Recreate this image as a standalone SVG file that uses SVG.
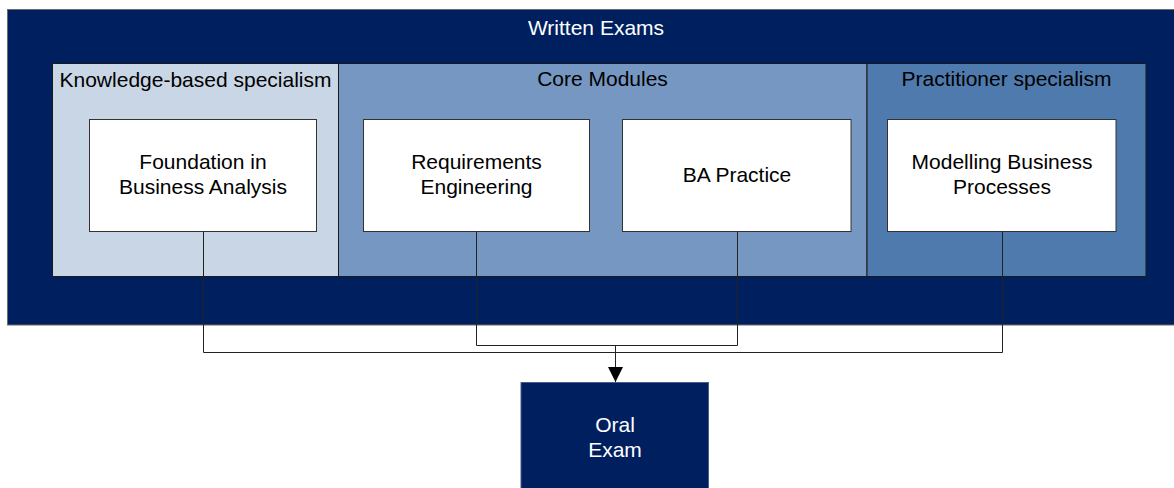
<svg xmlns="http://www.w3.org/2000/svg" width="1174" height="488" viewBox="0 0 1174 488">
<defs>
<style>
text{font-family:"Liberation Sans",Arial,sans-serif;font-size:21px;text-anchor:middle}
.dark{fill:#001f5f}
.lt{fill:#ffffff}
.blk{fill:#000000}
.panel{stroke:#1a1a1a;stroke-width:1}
.box{fill:#ffffff;stroke:#333333;stroke-width:1}
.con{fill:none;stroke:#222222;stroke-width:1}
</style>
<marker id="arr" markerUnits="userSpaceOnUse" markerWidth="16" markerHeight="16" viewBox="0 0 16 16" refX="15" refY="7.5" orient="auto">
<path d="M0,0 L15,7.5 L0,15 z" fill="#000000"/>
</marker>
</defs>
<rect width="1174" height="488" fill="#ffffff"/>
<g id="written-exams">
<rect x="7.5" y="9.5" width="1180" height="315.5" class="dark" stroke="#6b6b6b" stroke-width="1"/>
<text x="596" y="35" class="lt">Written Exams</text>
</g>
<g id="knowledge-based">
<rect x="52.5" y="63.5" width="286" height="213" class="panel" fill="#c8d6e6"/>
<text x="195.5" y="87" class="blk">Knowledge-based specialism</text>
</g>
<g id="core-modules">
<rect x="338.5" y="63.5" width="528.5" height="213" class="panel" fill="#7597c2"/>
<text x="602.5" y="86" class="blk">Core Modules</text>
</g>
<g id="practitioner">
<rect x="867" y="63.5" width="279" height="213" class="panel" fill="#4e7aae"/>
<text x="1006.5" y="86" class="blk">Practitioner specialism</text>
</g>
<g id="foundation">
<rect x="89.5" y="119.5" width="227" height="112" class="box"/>
<text x="203" y="169" class="blk">Foundation in</text>
<text x="203" y="194" class="blk">Business Analysis</text>
</g>
<g id="requirements">
<rect x="363.5" y="119.5" width="226" height="112" class="box"/>
<text x="476.5" y="169" class="blk">Requirements</text>
<text x="476.5" y="194" class="blk">Engineering</text>
</g>
<g id="ba-practice">
<rect x="622.5" y="119.5" width="228.5" height="112" class="box"/>
<text x="737" y="182" class="blk">BA Practice</text>
</g>
<g id="modelling">
<rect x="887.5" y="119.5" width="228.5" height="112" class="box"/>
<text x="1002" y="169" class="blk">Modelling Business</text>
<text x="1002" y="194" class="blk">Processes</text>
</g>
<g id="connectors">
<path class="con" d="M203.5 231.5 V352.5 H1002.5 V231.5"/>
<path class="con" d="M476.5 231.5 V345.5 H737.5 V231.5"/>
<path class="con" d="M615.5 345.5 V382" stroke-width="1.5" marker-end="url(#arr)"/>
</g>
<g id="oral-exam">
<rect x="521" y="382.5" width="187.5" height="110" class="dark" stroke="#4a5f88" stroke-width="1"/>
<text x="615" y="432" class="lt">Oral</text>
<text x="615" y="457" class="lt">Exam</text>
</g>
</svg>
